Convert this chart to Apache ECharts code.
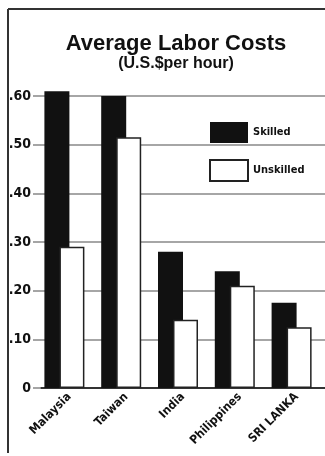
<!DOCTYPE html>
<html>
<head>
<meta charset="utf-8">
<style>
  html, body { margin: 0; padding: 0; background: #fff; }
  #main { width: 325px; height: 456px; }
</style>
</head>
<body>
<div id="main"></div>
<script src="https://cdn.jsdelivr.net/npm/echarts@6/dist/echarts.min.js"></script>
<script type="text/javascript">
  // data
  var countries = ['Malaysia', 'Taiwan', 'India', 'Philippines', 'SRI LANKA'];
  var skilled = [0.61, 0.60, 0.28, 0.24, 0.175];
  var unskilled = [0.29, 0.515, 0.14, 0.21, 0.125];
  var yTicks = [0, 0.1, 0.2, 0.3, 0.4, 0.5, 0.6];

  var narrow = "'Liberation Sans Narrow', 'DejaVu Sans Condensed', 'Roboto', sans-serif";

  var myChart = echarts.init(document.getElementById('main'));

  var option = {
    backgroundColor: '#fff',
    animation: false,
    title: {
      text: 'Average Labor Costs',
      subtext: '(U.S.$per hour)',
      left: 171,
      top: 28,
      textAlign: 'center',
      itemGap: 1,
      textStyle: { fontFamily: "'Liberation Sans', Arial, sans-serif", fontWeight: 'bold', fontSize: 22, color: '#111' },
      subtextStyle: { fontFamily: "'Liberation Sans', Arial, sans-serif", fontWeight: 'bold', fontSize: 16, color: '#111' }
    },
    legend: {
      data: ['Skilled', 'Unskilled'],
      orient: 'vertical',
      left: 204,
      top: 117,
      icon: 'rect',
      itemWidth: 38,
      itemHeight: 21,
      itemGap: 16,
      textStyle: { fontFamily: narrow, fontWeight: 'bold', fontSize: 11, color: '#111' }
    },
    grid: { left: 41, right: -7, top: 96, bottom: 68 },
    xAxis: {
      type: 'category',
      data: countries,
      axisLine: { lineStyle: { color: '#333', width: 2 } },
      axisTick: { show: false },
      axisLabel: {
        interval: 0,
        rotate: 45,
        margin: 7,
        color: '#111',
        fontFamily: narrow,
        fontWeight: 'bold',
        fontSize: 12
      }
    },
    yAxis: {
      type: 'value',
      min: 0,
      max: 0.6,
      interval: 0.1,
      axisLine: { show: false },
      axisTick: { show: true, length: 8, lineStyle: { color: '#888', width: 1.5 } },
      splitLine: { lineStyle: { color: '#888', width: 1.5 } },
      axisLabel: {
        margin: 10,
        color: '#111',
        fontFamily: narrow,
        fontWeight: 'bold',
        fontSize: 14,
        formatter: function (v) {
          if (v === 0) return '0';
          var i = yTicks.indexOf(Math.round(v * 10) / 10);
          return '.' + (yTicks[i] * 100).toFixed(0);
        }
      }
    },
    series: [
      {
        name: 'Skilled',
        type: 'bar',
        data: skilled,
        barWidth: 25,
        barGap: '-40%',
        clip: false,
        itemStyle: { color: '#111' }
      },
      {
        name: 'Unskilled',
        type: 'bar',
        data: unskilled,
        barWidth: 25,
        barGap: '-40%',
        itemStyle: { color: '#fff', borderColor: '#222', borderWidth: 1.5 }
      },
      {
        // empty spacer so the pair sits left of the label anchor
        name: 'spacer',
        type: 'bar',
        data: [],
        barWidth: 20,
        barGap: '-40%'
      }
    ],
    graphic: [
      { type: 'line', shape: { x1: 8, y1: 9, x2: 325, y2: 9 }, style: { stroke: '#333', lineWidth: 2 } },
      { type: 'line', shape: { x1: 8, y1: 9, x2: 8, y2: 453 }, style: { stroke: '#333', lineWidth: 2 } }
    ]
  };

  myChart.setOption(option);
</script>
</body>
</html>
